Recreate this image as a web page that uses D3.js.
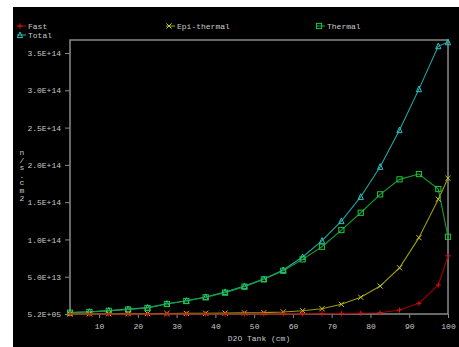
<!DOCTYPE html>
<html>
<head>
<meta charset="utf-8">
<script src="https://cdn.jsdelivr.net/npm/d3@7"></script>
<style>
  body { margin: 0; background: #fff; }
  text { font-family: "Liberation Mono", "DejaVu Sans Mono", monospace; font-size: 8px; fill: #c8c8c8; }
</style>
</head>
<body>
<div id="chart"></div>
<script>
(function() {

    var width = 459;
    var height = 347;

    // depth in the D2O tank (cm)
    var depth = [2.5, 7.5, 12.5, 17.5, 22.5, 27.5, 32.5, 37.5, 42.5, 47.5, 52.5,
                 57.5, 62.5, 67.5, 72.5, 77.5, 82.5, 87.5, 92.5, 97.5, 100];

    // flux values (n/s.cm2)
    var fast = [1e10, 1e10, 1e10, 1e10, 1e10, 2e10, 3e10, 4e10, 6e10, 8e10, 1.1e11,
                1.5e11, 2e11, 3e11, 5e11, 1e12, 1.7e12, 5.4e12, 1.43e13, 3.9e13, 7.8e13];
    var epi = [2e11, 3e11, 4e11, 5e11, 6e11, 7e11, 8e11, 1.0e12, 1.2e12, 1.5e12, 1.8e12,
               2.7e12, 4.4e12, 7.1e12, 1.3e13, 2.24e13, 3.75e13, 6.2e13, 1.024e14, 1.54e14, 1.82e14];
    var thermal = [1.8e12, 2.7e12, 4.2e12, 6.0e12, 8.0e12, 1.34e13, 1.74e13, 2.24e13, 2.86e13, 3.66e13, 4.65e13,
                   5.8e13, 7.33e13, 9.02e13, 1.126e14, 1.358e14, 1.605e14, 1.806e14, 1.877e14, 1.676e14, 1.036e14];
    var total = [2.0e12, 3.0e12, 4.5e12, 6.5e12, 8.5e12, 1.38e13, 1.78e13, 2.28e13, 2.95e13, 3.75e13, 4.69e13,
                 5.9e13, 7.64e13, 9.83e13, 1.247e14, 1.572e14, 1.975e14, 2.467e14, 3.016e14, 3.593e14, 3.646e14];

    var yTicks = [5.2e5, 5e13, 1e14, 1.5e14, 2e14, 2.5e14, 3e14, 3.5e14];
    var xTicks = [10, 20, 30, 40, 50, 60, 70, 80, 90, 100];

    var series = [
        {name: "Total", values: total, line: "#1fa8a8", mark: "#2cc4c4", shape: "tri"},
        {name: "Thermal", values: thermal, line: "#12a030", mark: "#1ec83c", shape: "sq"},
        {name: "Epi-thermal", values: epi, line: "#9a9a10", mark: "#c8c820", shape: "x"},
        {name: "Fast", values: fast, line: "#a00000", mark: "#e01010", shape: "plus"}
    ];

    var left = 70, right = 448, top = 40, bottom = 314;

    var svg = d3.select("#chart")
        .append("svg")
        .attr("width", width)
        .attr("height", height);

    svg.append("rect")
        .attr("x", 13).attr("y", 7)
        .attr("width", width - 13).attr("height", height - 7)
        .attr("fill", "#000");

    var x = d3.scaleLinear().domain([2.5, 100]).range([left, right]);
    var y = d3.scaleLinear().domain([5.2e5, 3.675e14]).range([bottom, top]);

    function fmt(v) {
        var s = v.toExponential(1).toUpperCase();
        return s.replace(/E([+-])(\d)$/, "E$10$2");
    }

    // frame
    svg.append("rect")
        .attr("x", left).attr("y", top)
        .attr("width", right - left).attr("height", bottom - top)
        .attr("fill", "none")
        .attr("stroke", "#8a8a8a")
        .attr("stroke-width", 1.5);

    var yAxis = svg.append("g")
        .attr("transform", "translate(" + left + ",0)")
        .call(d3.axisLeft(y).tickValues(yTicks).tickFormat(fmt).tickSize(5).tickPadding(4));
    yAxis.select(".domain").remove();
    yAxis.selectAll("line").attr("stroke", "#8a8a8a");
    yAxis.selectAll("text").attr("fill", "#c8c8c8").style("font-size", "8px");

    var xAxis = svg.append("g")
        .attr("transform", "translate(0," + bottom + ")")
        .call(d3.axisBottom(x).tickValues(xTicks).tickSize(4).tickPadding(5));
    xAxis.select(".domain").remove();
    xAxis.selectAll("line").attr("stroke", "#8a8a8a");
    xAxis.selectAll("text").attr("fill", "#c8c8c8").style("font-size", "8px");

    svg.append("text")
        .attr("x", (left + right) / 2)
        .attr("y", 341)
        .style("text-anchor", "middle")
        .text("D2O Tank (cm)");

    var yLabel = "n/s.cm2".split("");
    svg.append("g").selectAll("text").data(yLabel).enter().append("text")
        .attr("x", 22)
        .attr("y", function (d, i) { return 155 + i * 7.6; })
        .style("text-anchor", "middle")
        .text(function (d) { return d; });

    function marker(g, shape, color, cx, cy) {
        var s = 2.6;
        if (shape === "tri") {
            g.append("path").attr("d", "M" + cx + "," + (cy - s - 0.5) + "L" + (cx + s) + "," + (cy + s) + "L" + (cx - s) + "," + (cy + s) + "Z")
                .attr("fill", "none").attr("stroke", color).attr("stroke-width", 1);
        } else if (shape === "sq") {
            g.append("rect").attr("x", cx - s).attr("y", cy - s).attr("width", 2 * s).attr("height", 2 * s)
                .attr("fill", "none").attr("stroke", color).attr("stroke-width", 1);
        } else if (shape === "x") {
            g.append("path").attr("d", "M" + (cx - s) + "," + (cy - s) + "L" + (cx + s) + "," + (cy + s) + "M" + (cx + s) + "," + (cy - s) + "L" + (cx - s) + "," + (cy + s))
                .attr("stroke", color).attr("stroke-width", 1);
        } else {
            g.append("path").attr("d", "M" + (cx - s) + "," + cy + "L" + (cx + s) + "," + cy + "M" + cx + "," + (cy - s) + "L" + cx + "," + (cy + s))
                .attr("stroke", color).attr("stroke-width", 1);
        }
    }

    var line = d3.line()
        .x(function (d) { return x(d[0]); })
        .y(function (d) { return y(d[1]); });

    series.forEach(function (s) {
        var pts = depth.map(function (d, i) { return [d, s.values[i]]; });
        var g = svg.append("g");
        g.append("path")
            .datum(pts)
            .attr("d", line)
            .attr("fill", "none")
            .attr("stroke", s.line)
            .attr("stroke-width", 1.1);
        pts.forEach(function (p) {
            marker(g, s.shape, s.mark, x(p[0]), y(p[1]));
        });
    });

    // legend
    var legend = [
        {name: "Fast", x: 17, y: 26, s: series[3]},
        {name: "Total", x: 17, y: 35, s: series[0]},
        {name: "Epi-thermal", x: 166, y: 26, s: series[2]},
        {name: "Thermal", x: 316, y: 26, s: series[1]}
    ];
    legend.forEach(function (l) {
        var g = svg.append("g");
        g.append("line")
            .attr("x1", l.x).attr("x2", l.x + 9)
            .attr("y1", l.y).attr("y2", l.y)
            .attr("stroke", l.s.line).attr("stroke-width", 1.1);
        marker(g, l.s.shape, l.s.mark, l.x + 3, l.y);
        g.append("text")
            .attr("x", l.x + 11)
            .attr("y", l.y + 3)
            .text(l.name);
    });

})();
</script>
</body>
</html>
